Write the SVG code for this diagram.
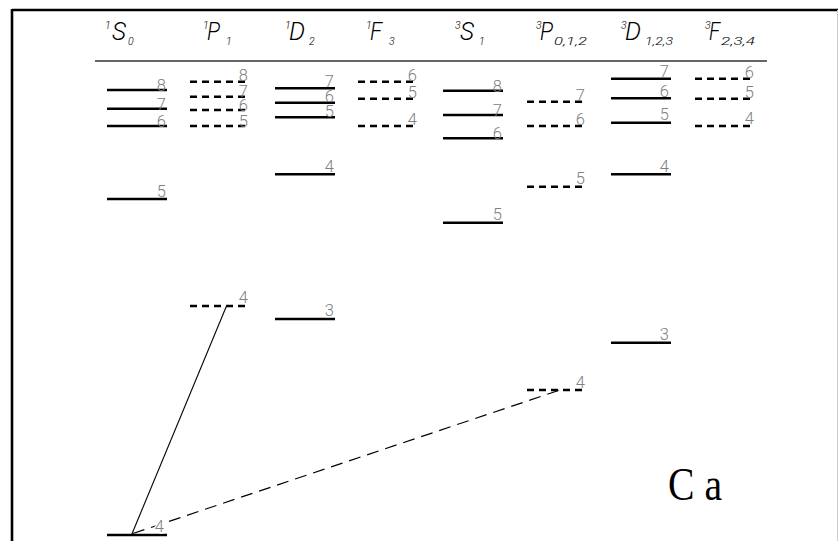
<svg xmlns="http://www.w3.org/2000/svg" width="838" height="541" viewBox="0 0 838 541">
<style>
.frame{stroke:#000;stroke-width:2.6;fill:none}
.rule{stroke:#333;stroke-width:1.3}
.lv{stroke:#000;stroke-width:2.6;fill:none}
.dl{stroke:#000;stroke-width:2.6;fill:none;stroke-dasharray:7 5}
.num{font-family:Roboto,"Liberation Sans",sans-serif;font-weight:300;font-size:16.5px;fill:#808080;text-anchor:end}
.hd{font-family:Roboto,"Liberation Sans",sans-serif;font-weight:300;font-style:italic;fill:#000}
.big{font-size:26px}
.sup{font-size:10.5px}
.sub{font-size:10.5px}
.tr{stroke:#000;stroke-width:1.1;fill:none}
.trd{stroke:#000;stroke-width:1.2;fill:none;stroke-dasharray:12 7}
.ca{font-family:"Liberation Serif","Times New Roman",serif;font-size:46px;fill:#000}
</style>
<rect width="838" height="541" fill="#fff"/>
<g id="frame">
<line class="frame" x1="12" y1="10" x2="838" y2="10"/>
<line class="frame" x1="12" y1="9" x2="12" y2="541"/>
<line x1="837.5" y1="10" x2="837.5" y2="541" stroke="#ccc" stroke-width="1"/>
<line class="rule" x1="95" y1="61" x2="767" y2="61"/>
</g>
<g id="headers">
<text class="hd sup" x="105" y="29">1</text><text class="hd big" x="112" y="40" textLength="14" lengthAdjust="spacingAndGlyphs">S</text><text class="hd sub" x="128" y="45">0</text>
<text class="hd sup" x="203" y="29">1</text><text class="hd big" x="207" y="40" textLength="13" lengthAdjust="spacingAndGlyphs">P</text><text class="hd sub" x="226" y="45">1</text>
<text class="hd sup" x="285" y="29">1</text><text class="hd big" x="289" y="40" textLength="16" lengthAdjust="spacingAndGlyphs">D</text><text class="hd sub" x="309" y="45">2</text>
<text class="hd sup" x="366" y="29">1</text><text class="hd big" x="370" y="40" textLength="12" lengthAdjust="spacingAndGlyphs">F</text><text class="hd sub" x="389" y="45">3</text>
<text class="hd sup" x="455" y="29">3</text><text class="hd big" x="460" y="40" textLength="14" lengthAdjust="spacingAndGlyphs">S</text><text class="hd sub" x="479" y="45">1</text>
<text class="hd sup" x="536" y="29">3</text><text class="hd big" x="540" y="40" textLength="13" lengthAdjust="spacingAndGlyphs">P</text><text class="hd sub" x="554" y="45" textLength="33" lengthAdjust="spacingAndGlyphs">0,1,2</text>
<text class="hd sup" x="621" y="29">3</text><text class="hd big" x="625" y="40" textLength="16" lengthAdjust="spacingAndGlyphs">D</text><text class="hd sub" x="645" y="45" textLength="28" lengthAdjust="spacingAndGlyphs">1,2,3</text>
<text class="hd sup" x="705" y="29">3</text><text class="hd big" x="709" y="40" textLength="11" lengthAdjust="spacingAndGlyphs">F</text><text class="hd sub" x="721" y="45" textLength="34" lengthAdjust="spacingAndGlyphs">2,3,4</text>
</g>
<g id="col-1S0">
<line class="lv" x1="107" y1="90" x2="167" y2="90"/><text class="num" x="166" y="91">8</text>
<line class="lv" x1="107" y1="108.7" x2="167" y2="108.7"/><text class="num" x="166" y="109.5">7</text>
<line class="lv" x1="107" y1="126" x2="167" y2="126"/><text class="num" x="166" y="126.5">6</text>
<line class="lv" x1="107" y1="199" x2="167" y2="199"/><text class="num" x="166" y="196.5">5</text>
<line class="lv" x1="107" y1="535" x2="167" y2="535"/>
</g>
<g id="col-1P1">
<line class="dl" x1="190" y1="81.7" x2="249" y2="81.7"/><text class="num" x="248" y="81">8</text>
<line class="dl" x1="190" y1="96.7" x2="249" y2="96.7"/><text class="num" x="248" y="96.5">7</text>
<line class="dl" x1="190" y1="110" x2="249" y2="110"/><text class="num" x="248" y="111">6</text>
<line class="dl" x1="190" y1="126" x2="249" y2="126"/><text class="num" x="248" y="127">5</text>
<line class="dl" x1="190" y1="306" x2="249" y2="306"/><text class="num" x="248" y="303">4</text>
</g>
<g id="col-1D2">
<line class="lv" x1="275" y1="88.3" x2="335" y2="88.3"/><text class="num" x="334" y="87">7</text>
<line class="lv" x1="275" y1="102.7" x2="335" y2="102.7"/><text class="num" x="334" y="102">6</text>
<line class="lv" x1="275" y1="117.3" x2="335" y2="117.3"/><text class="num" x="334" y="117">5</text>
<line class="lv" x1="275" y1="174.3" x2="335" y2="174.3"/><text class="num" x="334" y="172">4</text>
<line class="lv" x1="275" y1="319" x2="335" y2="319"/><text class="num" x="334" y="316">3</text>
</g>
<g id="col-1F3">
<line class="dl" x1="358" y1="81.7" x2="418" y2="81.7"/><text class="num" x="417" y="81">6</text>
<line class="dl" x1="358" y1="98.7" x2="418" y2="98.7"/><text class="num" x="417" y="98">5</text>
<line class="dl" x1="358" y1="126" x2="418" y2="126"/><text class="num" x="417" y="125">4</text>
</g>
<g id="col-3S1">
<line class="lv" x1="443" y1="90.7" x2="503" y2="90.7"/><text class="num" x="502" y="92">8</text>
<line class="lv" x1="443" y1="115" x2="503" y2="115"/><text class="num" x="502" y="116">7</text>
<line class="lv" x1="443" y1="138.3" x2="503" y2="138.3"/><text class="num" x="502" y="139">6</text>
<line class="lv" x1="443" y1="222.7" x2="503" y2="222.7"/><text class="num" x="502" y="220">5</text>
</g>
<g id="col-3P012">
<line class="dl" x1="527" y1="101.7" x2="586" y2="101.7"/><text class="num" x="585" y="101">7</text>
<line class="dl" x1="527" y1="126" x2="586" y2="126"/><text class="num" x="585" y="125">6</text>
<line class="dl" x1="527" y1="186.7" x2="586" y2="186.7"/><text class="num" x="585" y="184">5</text>
<line class="dl" x1="527" y1="390" x2="586" y2="390"/><text class="num" x="585" y="388">4</text>
</g>
<g id="col-3D123">
<line class="lv" x1="611" y1="78.7" x2="671" y2="78.7"/><text class="num" x="669" y="77">7</text>
<line class="lv" x1="611" y1="98.3" x2="671" y2="98.3"/><text class="num" x="669" y="97">6</text>
<line class="lv" x1="611" y1="122.7" x2="671" y2="122.7"/><text class="num" x="669" y="120">5</text>
<line class="lv" x1="611" y1="174.3" x2="671" y2="174.3"/><text class="num" x="669" y="172">4</text>
<line class="lv" x1="611" y1="342.7" x2="671" y2="342.7"/><text class="num" x="669" y="340">3</text>
</g>
<g id="col-3F234">
<line class="dl" x1="695" y1="78.7" x2="755" y2="78.7"/><text class="num" x="754" y="78">6</text>
<line class="dl" x1="695" y1="98.7" x2="755" y2="98.7"/><text class="num" x="754" y="98">5</text>
<line class="dl" x1="695" y1="126" x2="755" y2="126"/><text class="num" x="754" y="124">4</text>
</g>
<g id="connectors">
<line class="tr" x1="131.5" y1="535" x2="226.5" y2="306"/>
<line class="trd" x1="133" y1="533.5" x2="560" y2="390"/>
</g>
<text class="num" x="164" y="532" stroke="#fff" stroke-width="3" paint-order="stroke">4</text>
<text class="ca" x="668" y="500" textLength="54" lengthAdjust="spacingAndGlyphs">C a</text>
</svg>
